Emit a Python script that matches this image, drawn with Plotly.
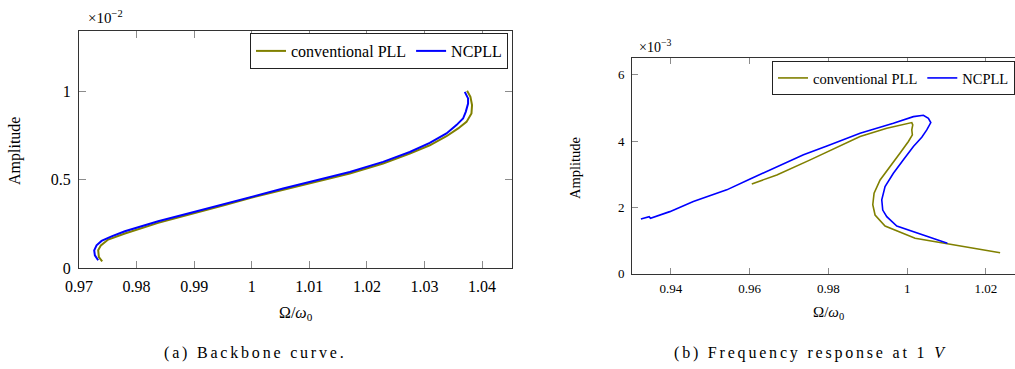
import plotly.graph_objects as go

# ---------------- data ----------------
# (a) Backbone curve: x = Omega/omega0, amplitude in units of 1e-2
bb_conv_x = [0.97403, 0.97345, 0.97333, 0.97380, 0.97507, 0.97797, 0.98375, 0.98995, 0.99533, 0.99971,
             1.00545, 1.01125, 1.01703, 1.02281, 1.02745, 1.03092, 1.03382, 1.03585, 1.03730, 1.03816,
             1.03826, 1.03798, 1.03740]
bb_conv_y = [0.038, 0.062, 0.100, 0.128, 0.161, 0.195, 0.255, 0.308, 0.356, 0.396,
             0.441, 0.489, 0.534, 0.591, 0.647, 0.694, 0.745, 0.789, 0.826, 0.874,
             0.921, 0.968, 1.002]
bb_nc_x = [0.97333, 0.97276, 0.97264, 0.97305, 0.97392, 0.97566, 0.97797, 0.98000, 0.98375, 0.98995,
           0.99533, 0.99971, 1.00545, 1.01125, 1.01703, 1.02281, 1.02745, 1.03092, 1.03382, 1.03555,
           1.03670, 1.03717, 1.03757, 1.03757, 1.03700]
bb_nc_y = [0.044, 0.072, 0.100, 0.128, 0.153, 0.179, 0.208, 0.229, 0.264, 0.317,
           0.364, 0.402, 0.449, 0.496, 0.543, 0.600, 0.656, 0.707, 0.761, 0.808,
           0.845, 0.883, 0.930, 0.959, 0.996]

# (b) Frequency response at 1 V: amplitude in units of 1e-3
fr_conv_x = [0.96053, 0.96689, 0.97537, 0.98215, 0.98804, 0.99483, 1.00118, 1.00143, 1.00118, 1.00133,
             1.00032, 0.99821, 0.99567, 0.99313, 0.99160, 0.99127, 0.99185, 0.99439, 1.00202, 1.01023,
             1.02362]
fr_conv_y = [2.71, 2.98, 3.435, 3.82, 4.14, 4.39, 4.56, 4.49, 4.34, 4.19,
             3.99, 3.64, 3.23, 2.83, 2.43, 2.08, 1.77, 1.44, 1.07, 0.897,
             0.634]
fr_nc_x = [0.93236, 0.93446, 0.93480, 0.93970, 0.94568, 0.95417, 0.96011, 0.96689, 0.97367, 0.97996,
           0.98804, 0.99650, 1.00159, 1.00413, 1.00540, 1.00601, 1.00499, 1.00372, 1.00159, 0.99905,
           0.99650, 0.99439, 0.99355, 0.99380, 0.99482, 0.99737, 1.00245, 1.01023]
fr_nc_y = [1.652, 1.72, 1.67, 1.873, 2.175, 2.53, 2.86, 3.23, 3.59, 3.87,
           4.24, 4.54, 4.74, 4.78, 4.69, 4.56, 4.34, 4.12, 3.84, 3.44,
           3.03, 2.63, 2.23, 1.92, 1.72, 1.44, 1.24, 0.918]

a_xticks = [0.97, 0.98, 0.99, 1.0, 1.01, 1.02, 1.03, 1.04]
a_xlabels = ["0.97", "0.98", "0.99", "1", "1.01", "1.02", "1.03", "1.04"]
a_yticks = [0, 0.5, 1]
a_ylabels = ["0", "0.5", "1"]
b_xticks = [0.94, 0.96, 0.98, 1.0, 1.02]
b_xlabels = ["0.94", "0.96", "0.98", "1", "1.02"]
b_yticks = [0, 2, 4, 6]
b_ylabels = ["0", "2", "4", "6"]

names = ["conventional PLL", "NCPLL"]
OLIVE = "#808000"
BLUE = "#0000ff"

W, H = 1015, 369
SERIF = "Liberation Serif"

def px(x):
    return x / W

def py(y):
    return 1 - y / H

fig = go.Figure()
fig.add_trace(go.Scatter(x=bb_conv_x, y=bb_conv_y, mode="lines", name=names[0],
                         line=dict(color=OLIVE, width=2), xaxis="x", yaxis="y", legend="legend"))
fig.add_trace(go.Scatter(x=bb_nc_x, y=bb_nc_y, mode="lines", name=names[1],
                         line=dict(color=BLUE, width=2), xaxis="x", yaxis="y", legend="legend"))
fig.add_trace(go.Scatter(x=fr_conv_x, y=fr_conv_y, mode="lines", name=names[0],
                         line=dict(color=OLIVE, width=1.6), xaxis="x2", yaxis="y2", legend="legend2"))
fig.add_trace(go.Scatter(x=fr_nc_x, y=fr_nc_y, mode="lines", name=names[1],
                         line=dict(color=BLUE, width=1.6), xaxis="x2", yaxis="y2", legend="legend2"))

axis_common = dict(showgrid=False, zeroline=False, showline=True, linecolor="#333333", linewidth=1,
                   ticks="inside", tickcolor="#8c8c8c", tickwidth=1, automargin=False)

fig.update_layout(
    width=W, height=H,
    margin=dict(l=0, r=0, t=0, b=0, autoexpand=False),
    paper_bgcolor="white", plot_bgcolor="white",
    font=dict(family=SERIF, color="black"),
    xaxis=dict(domain=[px(79), px(512)], range=[0.97, 1.0452], anchor="y",
               tickvals=a_xticks, ticktext=a_xlabels, ticklen=7, mirror="allticks",
               ticklabelstandoff=4,
               tickfont=dict(size=16, family=SERIF), **axis_common),
    yaxis=dict(domain=[py(268), py(31)], range=[0, 1.34], anchor="x",
               tickvals=a_yticks, ticktext=a_ylabels, ticklen=7, mirror="allticks",
               ticklabelstandoff=4,
               tickfont=dict(size=16, family=SERIF), **axis_common),
    xaxis2=dict(domain=[px(632), 1.0], range=[0.9301, 1.0274], anchor="y2",
                tickvals=b_xticks, ticktext=b_xlabels, ticklen=6, mirror="allticks",
                ticklabelstandoff=3,
                tickfont=dict(size=13, family=SERIF), **axis_common),
    yaxis2=dict(domain=[py(273.7), py(58.3)], range=[0, 6.5], anchor="x2",
                tickvals=b_yticks, ticktext=b_ylabels, ticklen=6, mirror=False,
                ticklabelstandoff=4,
                tickfont=dict(size=13, family=SERIF), **axis_common),
    legend=dict(orientation="h", x=px(508), y=py(33), xanchor="right", yanchor="top",
                bordercolor="#222222", borderwidth=1, bgcolor="white",
                font=dict(size=16, family=SERIF), itemwidth=30, tracegroupgap=0),
    legend2=dict(orientation="h", x=1.0, y=py(61), xanchor="right", yanchor="top",
                 bordercolor="#222222", borderwidth=1, bgcolor="white",
                 font=dict(size=14.5, family=SERIF), itemwidth=30, tracegroupgap=0),
)

SP = '<span style="letter-spacing:2.8px">{}</span>'
ann = [
    dict(text="×10<sup>−2</sup>", x=px(86), y=py(17), xanchor="left", yanchor="middle", size=15, angle=0),
    dict(text="×10<sup>−3</sup>", x=px(637), y=py(46), xanchor="left", yanchor="middle", size=14, angle=0),
    dict(text="Amplitude", x=px(15), y=py(151), xanchor="center", yanchor="middle", size=16, angle=-90),
    dict(text="Amplitude", x=px(575), y=py(168), xanchor="center", yanchor="middle", size=14.5, angle=-90),
    dict(text="Ω/<i>ω</i><sub>0</sub>", x=px(296), y=py(313), xanchor="center", yanchor="middle", size=16, angle=0),
    dict(text="Ω/<i>ω</i><sub>0</sub>", x=px(828), y=py(313), xanchor="center", yanchor="middle", size=15, angle=0),
    dict(text=SP.format("(a) Backbone curve."), x=px(255), y=py(353), xanchor="center", yanchor="middle", size=16, angle=0),
    dict(text=SP.format("(b) Frequency response at 1 ") + "<i>V</i>", x=px(810), y=py(353), xanchor="center", yanchor="middle", size=16, angle=0),
]
for a in ann:
    fig.add_annotation(text=a["text"], x=a["x"], y=a["y"], xref="paper", yref="paper",
                       xanchor=a["xanchor"], yanchor=a["yanchor"], showarrow=False,
                       textangle=a["angle"], font=dict(size=a["size"], family=SERIF, color="black"))

fig.write_html("out.html")
